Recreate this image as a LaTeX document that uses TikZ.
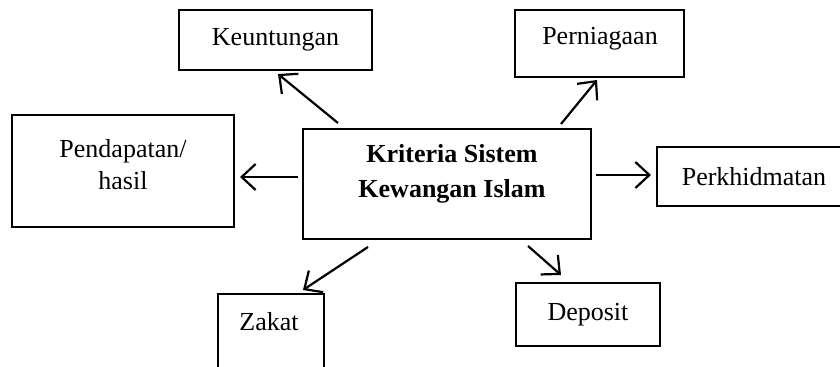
\documentclass[tikz,border=0pt]{standalone}
\usepackage{fontspec}
\setmainfont{Liberation Serif}
\usetikzlibrary{arrows.meta,calc}
\begin{document}
\begin{tikzpicture}[x=.5pt,y=-.5pt,font=\fontsize{13}{16}\selectfont,
  kotak/.style={draw,line width=1pt,inner sep=0pt},
  teks/.style={align=center,inner sep=0pt},
  panah/.style={line width=1.1pt,-{Straight Barb[length=7pt,width=13pt,line width=1.1pt]}}]
\useasboundingbox (0,0) rectangle (840,367);
\node[kotak,minimum width=96.5pt,minimum height=30pt] (keun) at (275.5,40) {Keuntungan};
\node[kotak,minimum width=84.5pt,minimum height=33.5pt] (pern) at (599.5,43.5) {};
\node[teks] (perntxt) at (600,39) {Perniagaan};
\node[kotak,minimum width=111pt,minimum height=56pt] (pend) at (123,171) {};
\node[teks] (pendtxt) at (123,165) {Pendapatan/\\hasil};
\node[kotak,minimum width=144pt,minimum height=55pt] (hub) at (447,184) {};
\node[teks,font=\bfseries\fontsize{13}{17.5}\selectfont] (hubtxt) at (452,174) {Kriteria Sistem\\Kewangan Islam};
\node[kotak,minimum width=97pt,minimum height=29.5pt] (perk) at (754,176.5) {Perkhidmatan};
\node[kotak,minimum width=53pt,minimum height=53pt] (zakat) at (271,347) {};
\node[teks] (zakattxt) at (269,322) {Zakat};
\node[kotak,minimum width=72pt,minimum height=31.5pt] (depo) at (588,314.5) {Deposit};
\draw[panah] ($(hub.north)+(-109,-5)$) -- ($(keun.south)+(2.5,3)$);
\draw[panah] ($(hub.north)+(114,-4)$) -- ($(pern.south)+(-2.5,2)$);
\draw[panah] ($(hub.west)+(-4,-7)$) -- ($(pend.east)+(5,6)$);
\draw[panah] ($(hub.east)+(4,-9)$) -- ($(perk.west)+(-5,-1.5)$);
\draw[panah] ($(hub.south)+(-79,7)$) -- ($(zakat.north)+(32,-3)$);
\draw[panah] ($(hub.south)+(81,6)$) -- ($(depo.north)+(-27,-7)$);
\end{tikzpicture}
\end{document}
